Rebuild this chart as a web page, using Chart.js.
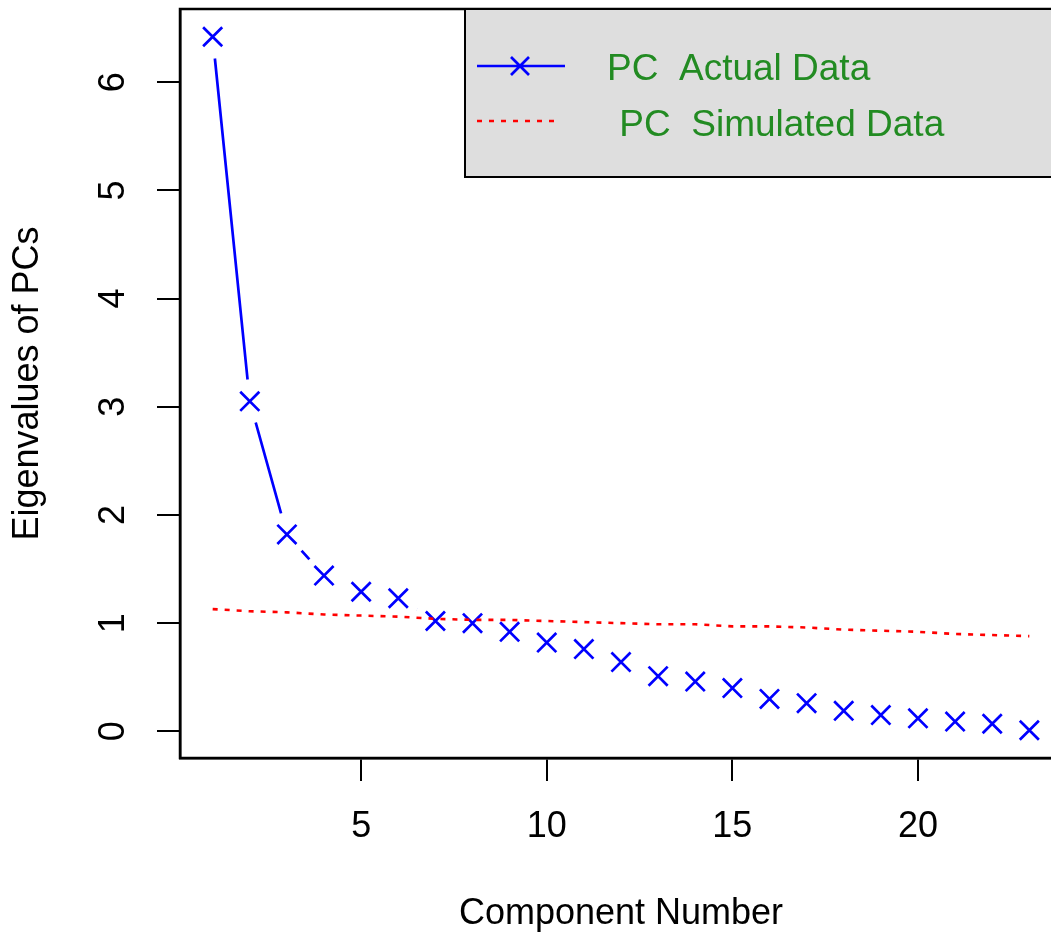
<!DOCTYPE html>
<html>
<head>
<meta charset="utf-8">
<script src="https://cdn.jsdelivr.net/npm/chart.js@4.4.1/dist/chart.umd.min.js"></script>
<style>
  html, body { margin: 0; padding: 0; background: #fff; overflow: hidden; }
  canvas { display: block; }
</style>
</head>
<body>
<canvas id="c" width="1080" height="936"></canvas>
<script>
const components = [1,2,3,4,5,6,7,8,9,10,11,12,13,14,15,16,17,18,19,20,21,22,23];
const actualData = [6.42, 3.05, 1.82, 1.44, 1.29, 1.23, 1.02, 1.00, 0.92, 0.82, 0.76, 0.64, 0.51, 0.46, 0.40, 0.30, 0.26, 0.19, 0.15, 0.12, 0.09, 0.07, 0.01];
const simulatedData = [1.13, 1.11, 1.10, 1.08, 1.07, 1.06, 1.04, 1.03, 1.03, 1.02, 1.01, 1.00, 0.99, 0.99, 0.97, 0.97, 0.96, 0.94, 0.93, 0.92, 0.90, 0.89, 0.88];
const xTicks = [5, 10, 15, 20];
const xTickLabels = ['5', '10', '15', '20'];
const yTicks = [0, 1, 2, 3, 4, 5, 6];
const yTickLabels = ['0', '1', '2', '3', '4', '5', '6'];
const legendLabels = ['PC  Actual Data', ' PC  Simulated Data'];
const xTitle = 'Component Number';
const yTitle = 'Eigenvalues of PCs';

const FONT = '"Liberation Sans", Arial, Helvetica, sans-serif';
const BLUE = '#0000ff';
const RED = '#ff0000';
const GREEN = '#228b22';

const actualPts = components.map((c, i) => ({x: c, y: actualData[i]}));
const simPts = components.map((c, i) => ({x: c, y: simulatedData[i]}));

const boxPlugin = {
  id: 'rBox',
  afterDatasetsDraw(chart) {
    const {ctx, chartArea: a} = chart;
    ctx.save();
    ctx.strokeStyle = '#000';
    ctx.lineWidth = 2.5;
    ctx.strokeRect(a.left, a.top, a.right - a.left, a.bottom - a.top);
    ctx.restore();
  }
};

const legendPlugin = {
  id: 'rLegend',
  afterDraw(chart) {
    const {ctx, chartArea: a} = chart;
    const left = a.right - 597, top = a.top, h = 168;
    ctx.save();
    ctx.fillStyle = '#dedede';
    ctx.fillRect(left, top, a.right - left, h);
    ctx.strokeStyle = '#000';
    ctx.lineWidth = 2;
    ctx.strokeRect(left, top, a.right - left, h);
    const y1 = top + 57;
    ctx.strokeStyle = BLUE;
    ctx.lineWidth = 2.7;
    ctx.beginPath();
    ctx.moveTo(left + 12, y1); ctx.lineTo(left + 100, y1);
    const cx = left + 55, r = 9;
    ctx.moveTo(cx - r, y1 - r); ctx.lineTo(cx + r, y1 + r);
    ctx.moveTo(cx - r, y1 + r); ctx.lineTo(cx + r, y1 - r);
    ctx.stroke();
    const y2 = top + 112;
    ctx.strokeStyle = RED;
    ctx.lineWidth = 2.5;
    ctx.setLineDash([5, 7]);
    ctx.beginPath();
    ctx.moveTo(left + 12, y2); ctx.lineTo(left + 92, y2);
    ctx.stroke();
    ctx.setLineDash([]);
    ctx.fillStyle = GREEN;
    ctx.font = '37px ' + FONT;
    ctx.textBaseline = 'alphabetic';
    ctx.textAlign = 'left';
    ctx.fillText(legendLabels[0], left + 142, top + 70.5);
    ctx.fillText(legendLabels[1], left + 144, top + 126.5);
    ctx.restore();
  }
};

new Chart(document.getElementById('c'), {
  type: 'scatter',
  data: {
    datasets: [
      {
        label: 'PC Simulated Data',
        data: simPts,
        showLine: true,
        borderColor: RED,
        borderWidth: 2.6,
        borderDash: [5, 7],
        pointRadius: 0,
        fill: false,
        tension: 0,
        order: 1
      },
      {
        label: 'PC Actual Data points',
        data: actualPts,
        showLine: false,
        pointStyle: 'crossRot',
        pointRadius: 13.5,
        pointBorderColor: BLUE,
        pointBorderWidth: 2.7,
        pointBackgroundColor: BLUE,
        order: 2
      },
      {
        label: 'PC Actual Data',
        data: actualPts,
        showLine: true,
        borderColor: BLUE,
        borderWidth: 2.7,
        pointStyle: 'circle',
        pointRadius: 22,
        pointBackgroundColor: '#ffffff',
        pointBorderWidth: 0,
        pointBorderColor: 'rgba(0,0,0,0)',
        tension: 0,
        order: 3
      }
    ]
  },
  options: {
    responsive: false,
    animation: false,
    devicePixelRatio: 1,
    layout: { autoPadding: false, padding: { top: 9, right: 18, left: 0, bottom: 0 } },
    plugins: { legend: { display: false }, tooltip: { enabled: false } },
    scales: {
      x: {
        type: 'linear',
        min: 0.12,
        max: 23.88,
        afterBuildTicks: s => { s.ticks = xTicks.map(v => ({value: v})); },
        afterFit: s => { s.height = 178; s.paddingLeft = 0; s.paddingRight = 0; },
        ticks: {
          autoSkip: false,
          maxRotation: 0,
          minRotation: 0,
          color: '#000',
          font: { family: FONT, size: 36 },
          padding: 24,
          callback: (v) => xTickLabels[xTicks.indexOf(v)]
        },
        grid: { drawOnChartArea: false, drawTicks: true, tickLength: 23, color: '#000', lineWidth: 2 },
        border: { display: true, color: '#000', width: 2.5 },
        title: { display: true, text: xTitle, color: '#000', font: { family: FONT, size: 36 }, padding: { top: 0, bottom: 0 } }
      },
      y: {
        type: 'linear',
        min: -0.2464,
        max: 6.6764,
        afterBuildTicks: s => { s.ticks = yTicks.map(v => ({value: v})); },
        afterFit: s => { s.width = 180; s.paddingTop = 0; s.paddingBottom = 0; },
        ticks: {
          autoSkip: false,
          minRotation: 90,
          maxRotation: 90,
          crossAlign: 'center',
          color: '#000',
          font: { family: FONT, size: 36 },
          padding: 33,
          callback: (v) => yTickLabels[yTicks.indexOf(v)]
        },
        grid: { drawOnChartArea: false, drawTicks: true, tickLength: 23, color: '#000', lineWidth: 2 },
        border: { display: true, color: '#000', width: 2.5 },
        title: { display: true, text: yTitle, color: '#000', font: { family: FONT, size: 36 }, padding: { top: 6, bottom: 0 } }
      }
    }
  },
  plugins: [boxPlugin, legendPlugin]
});
</script>
</body>
</html>
